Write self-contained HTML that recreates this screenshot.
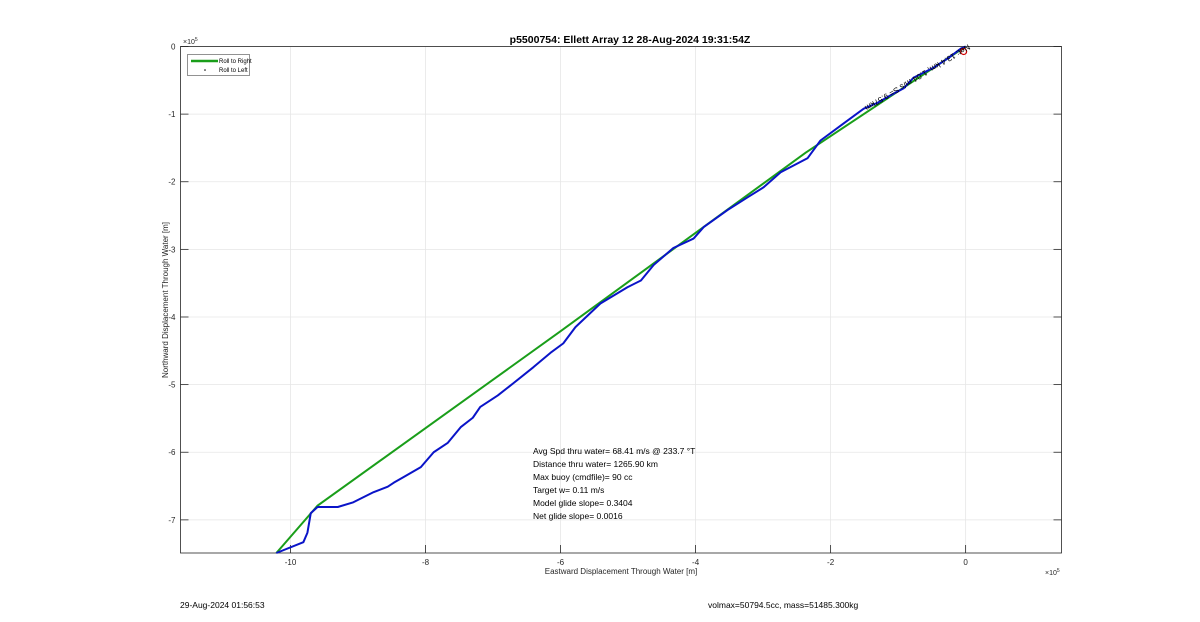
<!DOCTYPE html>
<html><head><meta charset="utf-8"><style>
body{margin:0;background:#fff;}
svg{display:block;font-family:"Liberation Sans",sans-serif;}
</style></head><body>
<svg id="chart" width="1200" height="622" viewBox="0 0 1200 622">
<rect x="0" y="0" width="1200" height="622" fill="#fff"/>
<g id="grid"></g>
<rect x="180.5" y="46.5" width="881" height="506.5" fill="none" stroke="#262626" stroke-width="0.8"/>
<g id="ticks" font-size="8" fill="#262626"></g>
<g id="series"></g>
<text x="630" y="43" text-anchor="middle" font-size="10.5" font-weight="bold" fill="#000">p5500754: Ellett Array 12 28-Aug-2024 19:31:54Z</text>
<text x="621" y="574" text-anchor="middle" font-size="8" fill="#262626">Eastward Displacement Through Water [m]</text>
<text transform="translate(168,300) rotate(-90)" text-anchor="middle" font-size="8" fill="#262626">Northward Displacement Through Water [m]</text>
<text x="183" y="44" font-size="7" fill="#262626">×10<tspan dy="-3" font-size="5">5</tspan></text>
<text x="1045" y="575" font-size="7" fill="#262626">×10<tspan dy="-3" font-size="5">5</tspan></text>
<g>
<rect x="187.5" y="54.5" width="62" height="21" fill="#fff" stroke="#262626" stroke-width="0.5"/>
<line x1="191" y1="61" x2="218" y2="61" stroke="#1a9e1a" stroke-width="2.5"/>
<text x="219" y="63" font-size="6" fill="#000">Roll to Right</text>
<circle cx="205" cy="70" r="0.8" fill="#000"/>
<text x="219" y="72" font-size="6" fill="#000">Roll to Left</text>
</g>
<g font-size="8.5" fill="#000">
<text x="533" y="454">Avg Spd thru water= 68.41 m/s @ 233.7 °T</text>
<text x="533" y="467">Distance thru water= 1265.90 km</text>
<text x="533" y="480">Max buoy (cmdfile)= 90 cc</text>
<text x="533" y="493">Target w= 0.11 m/s</text>
<text x="533" y="506">Model glide slope= 0.3404</text>
<text x="533" y="519">Net glide slope= 0.0016</text>
</g>
<text transform="translate(968,44) rotate(149)" font-size="8" fill="#000">Net: 13.4 km, 1.04 m/s S= 9.57km</text>
<text x="180" y="608" font-size="8.5" fill="#000">29-Aug-2024 01:56:53</text>
<text x="708" y="608" font-size="8.5" fill="#000">volmax=50794.5cc, mass=51485.300kg</text>
</svg>
<script>
const xTicks=[-10,-8,-6,-4,-2,0];
const yTicks=[0,-1,-2,-3,-4,-5,-6,-7];
const greenX=[-10.21,-9.60,-6.0,-2.37,0];
const greenY=[-7.49,-6.79,-4.21,-1.57,0];
const blueX=[-10.21,-9.81,-9.75,-9.70,-9.60,-9.30,-9.07,-8.77,-8.56,-8.47,-8.33,-8.07,-7.88,-7.67,-7.48,-7.30,-7.19,-6.93,-6.70,-6.40,-6.15,-5.96,-5.78,-5.41,-5.01,-4.81,-4.62,-4.33,-4.03,-3.88,-3.53,-3.23,-2.99,-2.74,-2.34,-2.15,-1.81,-1.51,-1.30,-1.11,-0.92,-0.77,-0.47,-0.27,-0.07,0];
const blueY=[-7.49,-7.33,-7.19,-6.90,-6.81,-6.81,-6.74,-6.59,-6.51,-6.45,-6.37,-6.22,-6.00,-5.86,-5.63,-5.49,-5.33,-5.16,-4.98,-4.74,-4.53,-4.39,-4.15,-3.80,-3.56,-3.46,-3.23,-2.98,-2.84,-2.67,-2.42,-2.23,-2.08,-1.86,-1.65,-1.39,-1.14,-0.92,-0.83,-0.72,-0.62,-0.46,-0.31,-0.18,-0.03,0];
const X0=-11.63,X1=1.42,Y0=-7.49,Y1=0;
const L=180.5,R=1061.5,T=46.5,B=553;
const sx=v=>L+(v-X0)/(X1-X0)*(R-L);
const sy=v=>B-(v-Y0)/(Y1-Y0)*(B-T);
const NS="http://www.w3.org/2000/svg";
const grid=document.getElementById('grid'),ticks=document.getElementById('ticks'),series=document.getElementById('series');
function mk(tag,attrs,parent){const e=document.createElementNS(NS,tag);for(const k in attrs)e.setAttribute(k,attrs[k]);parent.appendChild(e);return e;}
xTicks.forEach(v=>{
 const g=mk('line',{x1:sx(v),x2:sx(v),y1:T,y2:B,stroke:'#e6e6e6','stroke-width':0.8},grid);
 
 
 mk('line',{x1:sx(v),x2:sx(v),y1:B,y2:B-8,stroke:'#262626','stroke-width':0.8},ticks);
 const t=mk('text',{x:sx(v),y:B+12,'text-anchor':'middle'},ticks);t.textContent=v;
 
 
});
yTicks.forEach(v=>{
 const g=mk('line',{x1:L,x2:R,y1:sy(v),y2:sy(v),stroke:'#e6e6e6','stroke-width':0.8},grid);
 
 
 mk('line',{x1:L,x2:L+8,y1:sy(v),y2:sy(v),stroke:'#262626','stroke-width':0.8},ticks);
 mk('line',{x1:R,x2:R-8,y1:sy(v),y2:sy(v),stroke:'#262626','stroke-width':0.8},ticks);
 const t=mk('text',{x:L-5,y:sy(v)+3,'text-anchor':'end'},ticks);t.textContent=v;
 
 
});
const gp=mk('polyline',{points:greenX.map((x,i)=>sx(x)+','+sy(greenY[i])).join(' '),fill:'none',stroke:'#1a9e1a','stroke-width':2},series);


const bp=mk('polyline',{points:blueX.map((x,i)=>sx(x)+','+sy(blueY[i])).join(' '),fill:'none',stroke:'#0a14c8','stroke-width':2,'stroke-linejoin':'round'},series);


const c=mk('circle',{cx:sx(0)-2,cy:sy(0)+5,r:3,fill:'none',stroke:'#d00000','stroke-width':1.2},series);


</script>
</body></html>
